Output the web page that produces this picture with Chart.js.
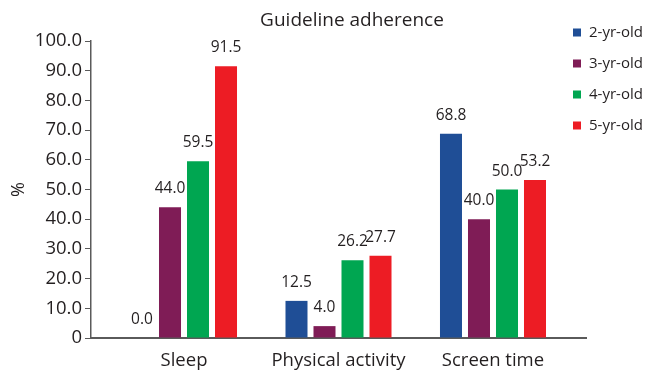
<!DOCTYPE html>
<html>
<head>
<meta charset="utf-8">
<script src="https://cdn.jsdelivr.net/npm/chart.js@4"></script>
<style>
  html, body { margin: 0; padding: 0; background: #fff; }
  #wrap { width: 649px; height: 372px; }
</style>
</head>
<body>
<div id="wrap"><canvas id="c" width="649" height="372"></canvas></div>
<script>
// Guideline adherence (%) by age group
const categories = ['Sleep', 'Physical activity', 'Screen time'];
const seriesNames = ['2-yr-old', '3-yr-old', '4-yr-old', '5-yr-old'];
const age2 = [0.0, 12.5, 68.8];
const age3 = [44.0, 4.0, 40.0];
const age4 = [59.5, 26.2, 50.0];
const age5 = [91.5, 27.7, 53.2];
const yTicks = [0, 10, 20, 30, 40, 50, 60, 70, 80, 90, 100];
const chartTitle = 'Guideline adherence';

const colors = ['#1f4e96', '#7f1c56', '#00a651', '#ed1c24'];
const FONT = '"Open Sans", "Noto Sans", sans-serif';
const TEXT = '#231f20';

const seriesValues = [age2, age3, age4, age5];
const datasets = seriesValues.map((vals, s) => ({
  label: seriesNames[s],
  data: vals.map((v, i) => ({ x: i, y: v })),
  backgroundColor: colors[s],
  borderWidth: 0,
  categoryPercentage: 0.725,
  barPercentage: 0.786
}));

// value labels above each bar
const valueLabels = {
  id: 'valueLabels',
  afterDatasetsDraw(chart) {
    const ctx = chart.ctx;
    ctx.save();
    ctx.font = '15.5px ' + FONT;
    ctx.fillStyle = TEXT;
    ctx.textAlign = 'center';
    ctx.textBaseline = 'alphabetic';
    chart.data.datasets.forEach((ds, di) => {
      chart.getDatasetMeta(di).data.forEach((bar, i) => {
        ctx.fillText(ds.data[i].y.toFixed(1), bar.x, bar.y - 14);
      });
    });
    ctx.restore();
  }
};

// title and legend
const headerAndLegend = {
  id: 'headerAndLegend',
  afterDraw(chart) {
    const ctx = chart.ctx;
    ctx.save();
    ctx.fillStyle = TEXT;
    ctx.font = '19px ' + FONT;
    ctx.textAlign = 'center';
    ctx.textBaseline = 'alphabetic';
    ctx.fillText(chartTitle, 352, 26);

    ctx.font = '15px ' + FONT;
    ctx.textBaseline = 'middle';
    ctx.textAlign = 'left';
    chart.data.datasets.forEach((ds, i) => {
      const cy = 32.5 + i * 31;
      ctx.fillStyle = ds.backgroundColor;
      ctx.fillRect(573, cy - 4, 8, 8);
      ctx.fillStyle = TEXT;
      ctx.fillText(ds.label, 589, cy);
    });
    ctx.restore();
  }
};

new Chart(document.getElementById('c'), {
  type: 'bar',
  data: { datasets },
  options: {
    responsive: false,
    animation: false,
    layout: { padding: { left: 0, right: 63, top: 41, bottom: 0 } },
    plugins: {
      legend: { display: false },
      tooltip: { enabled: false },
      title: { display: false }
    },
    scales: {
      x: {
        type: 'linear',
        offset: false,
        min: -0.602,
        max: 2.602,
        afterBuildTicks: s => { s.ticks = categories.map((c, i) => ({ value: i })); },
        afterFit: s => { s.height = 34; },
        ticks: {
          autoSkip: false,
          maxRotation: 0,
          color: TEXT,
          padding: 4,
          font: { family: FONT, size: 18.5 },
          callback: v => categories[v]
        },
        grid: { display: false, offset: false },
        border: { display: true, color: '#5a5a5a', width: 2 }
      },
      y: {
        min: 0,
        max: 100,
        afterBuildTicks: s => { s.ticks = yTicks.map(v => ({ value: v })); },
        afterFit: s => { s.width = 91; },
        ticks: {
          color: TEXT,
          padding: 3,
          font: { family: FONT, size: 18.5 },
          callback: v => (v === 0 ? '0' : v.toFixed(1))
        },
        grid: { drawOnChartArea: false, drawTicks: true, tickLength: 6, color: '#5a5a5a', lineWidth: 1 },
        border: { display: true, color: '#5a5a5a', width: 1.5 },
        title: {
          display: true,
          text: '%',
          color: TEXT,
          font: { family: FONT, size: 18 },
          padding: { top: 8, bottom: 4 }
        }
      }
    }
  },
  plugins: [valueLabels, headerAndLegend]
});
</script>
</body>
</html>
